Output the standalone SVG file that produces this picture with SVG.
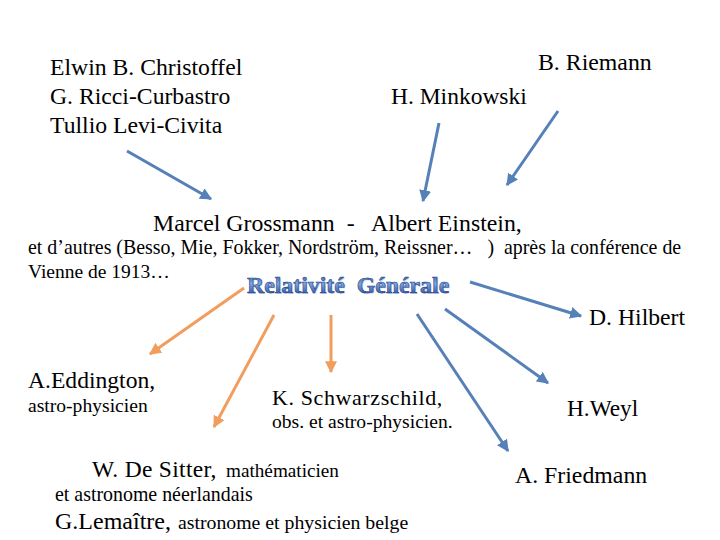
<svg xmlns="http://www.w3.org/2000/svg" width="720" height="540" viewBox="0 0 720 540">
<defs>
<marker id="hb" viewBox="0 0 10 10" refX="9" refY="5" markerWidth="4" markerHeight="4" orient="auto" markerUnits="strokeWidth"><path d="M0,0 L10,5 L0,10 z" fill="#5580b8"/></marker>
<marker id="ho" viewBox="0 0 10 10" refX="9" refY="5" markerWidth="4" markerHeight="4" orient="auto" markerUnits="strokeWidth"><path d="M0,0 L10,5 L0,10 z" fill="#f29d5c"/></marker>
<linearGradient id="rg" x1="0" y1="0" x2="0" y2="1">
<stop offset="0" stop-color="#2c4f9e"/>
<stop offset="0.45" stop-color="#7ea6dc"/>
<stop offset="1" stop-color="#1d3a86"/>
</linearGradient>
</defs>
<rect width="720" height="540" fill="#fff"/>
<g id="connectors" stroke-width="3" fill="none">
<g stroke="#5580b8" marker-end="url(#hb)">
<line x1="127" y1="151" x2="211" y2="199"/>
<line x1="439" y1="123" x2="423" y2="201"/>
<line x1="558" y1="111" x2="507" y2="185"/>
<line x1="470" y1="282" x2="581" y2="316"/>
<line x1="445" y1="309" x2="548" y2="383"/>
<line x1="417" y1="314" x2="508" y2="451"/>
</g>
<g stroke="#f29d5c" marker-end="url(#ho)">
<line x1="244" y1="288" x2="150" y2="354"/>
<line x1="274" y1="315" x2="214" y2="427"/>
<line x1="331" y1="315" x2="331" y2="372"/>
</g>
</g>
<g id="christoffel" font-size="23.7">
<text font-family="Liberation Serif, serif" x="50" y="75">Elwin B. Christoffel</text>
<text font-family="Liberation Serif, serif" x="50" y="104">G. Ricci-Curbastro</text>
<text font-family="Liberation Serif, serif" x="50" y="133">Tullio Levi-Civita</text>
</g>
<g id="riemann"><text font-family="Liberation Serif, serif" font-size="23.8" x="538" y="70">B. Riemann</text></g>
<g id="minkowski"><text font-family="Liberation Serif, serif" font-size="23.5" x="391" y="104">H. Minkowski</text></g>
<g id="einstein">
<text font-family="Liberation Serif, serif" x="153" y="231" font-size="23.8" xml:space="preserve">Marcel Grossmann  -   Albert Einstein,</text>
<text font-family="Liberation Serif, serif" font-size="19.9" x="28" y="254" xml:space="preserve">et d’autres (Besso, Mie, Fokker, Nordström, Reissner…   )  après la conférence de</text>
<text font-family="Liberation Serif, serif" font-size="19.5" x="28" y="278">Vienne de 1913…</text>
</g>
<g id="relativite">
<text font-family="Liberation Serif, serif" x="248" y="294" font-size="23.8" font-weight="bold" opacity="0.5" fill="#aac2e4" xml:space="preserve">Relativité  Générale</text>
<text font-family="Liberation Serif, serif" x="247" y="293" font-size="23.8" font-weight="bold" fill="url(#rg)" stroke="#203f8a" stroke-width="0.6" xml:space="preserve">Relativité  Générale</text>
</g>
<g id="hilbert"><text font-family="Liberation Serif, serif" font-size="23.7" x="589" y="325">D. Hilbert</text></g>
<g id="eddington">
<text font-family="Liberation Serif, serif" font-size="23.6" x="28" y="388">A.Eddington,</text>
<text font-family="Liberation Serif, serif" font-size="19.6" x="28" y="412">astro-physicien</text>
</g>
<g id="schwarzschild">
<text font-family="Liberation Serif, serif" font-size="22" x="272" y="405" letter-spacing="0.6">K. Schwarzschild,</text>
<text font-family="Liberation Serif, serif" font-size="19.6" x="272" y="428">obs. et astro-physicien.</text>
</g>
<g id="weyl"><text font-family="Liberation Serif, serif" font-size="23.3" x="567" y="416">H.Weyl</text></g>
<g id="friedmann"><text font-family="Liberation Serif, serif" font-size="23.8" x="515" y="483">A. Friedmann</text></g>
<g id="desitter">
<text font-family="Liberation Serif, serif" x="92" y="477" font-size="23.5" letter-spacing="0.3">W. De Sitter,</text>
<text font-family="Liberation Serif, serif" x="226" y="477" font-size="19.2">mathématicien</text>
<text font-family="Liberation Serif, serif" font-size="19.9" x="55" y="501">et astronome néerlandais</text>
</g>
<g id="lemaitre">
<text font-family="Liberation Serif, serif" x="55" y="529" font-size="24">G.Lemaître,</text>
<text font-family="Liberation Serif, serif" x="178" y="529" font-size="19.8">astronome et physicien belge</text>
</g>
</svg>
